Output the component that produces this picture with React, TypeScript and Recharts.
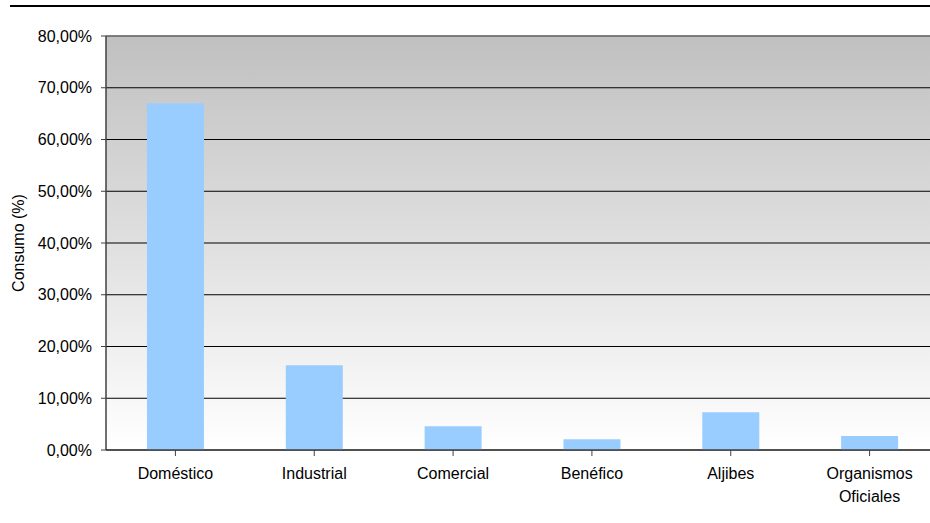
import { BarChart, Bar, XAxis, YAxis, CartesianGrid, ReferenceLine } from 'recharts'

const categories = ['Doméstico', 'Industrial', 'Comercial', 'Benéfico', 'Aljibes', 'Organismos Oficiales']
const consumo = [67.0, 16.4, 4.6, 2.1, 7.3, 2.7]
const yTicks = [0, 10, 20, 30, 40, 50, 60, 70, 80]

const data = categories.map((name, i) => ({ name, consumo: consumo[i] }))

const FONT = 'Liberation Sans, Arial, sans-serif'

const fmtPct = (v: number) => `${v.toFixed(2).replace('.', ',')}%`

function CategoryTick({ x, y, payload }: { x?: number; y?: number; payload?: { value: string } }) {
  const label = payload?.value ?? ''
  // two-word "Organismos Oficiales" wraps like the original
  const lines = label.includes(' ') ? label.split(' ') : [label]
  return (
    <text x={x} y={(y ?? 0) + 21} textAnchor="middle" fontFamily={FONT} fontSize={16} fill="#000">
      {lines.map((l, i) => (
        <tspan key={i} x={x} dy={i === 0 ? 0 : 23}>{l}</tspan>
      ))}
    </text>
  )
}

export default function App() {
  return (
    <div style={{ position: 'fixed', left: 0, top: 0, width: 930, height: 523, overflow: 'hidden', background: '#fff' }}>
      <div style={{ position: 'absolute', left: 10, right: 0, top: 5, borderTop: '2px solid #000' }} />
      <BarChart
        width={945}
        height={523}
        data={data}
        margin={{ top: 36, right: 6, bottom: 0, left: 0 }}
        barCategoryGap="29.5%"
      >
        <defs>
          <linearGradient id="plotBg" x1="0" y1="0" x2="0" y2="1">
            <stop offset="0%" stopColor="#c0c0c0" />
            <stop offset="100%" stopColor="#ffffff" />
          </linearGradient>
        </defs>
        <CartesianGrid vertical={false} stroke="#000" fill="url(#plotBg)" fillOpacity={1} />
        <XAxis
          dataKey="name"
          interval={0}
          tick={<CategoryTick />}
          tickSize={6}
          tickMargin={2}
          axisLine={{ stroke: '#404040', strokeWidth: 1.5 }}
          tickLine={{ stroke: '#404040' }}
          height={73}
        />
        <YAxis
          width={106}
          domain={[0, 80]}
          ticks={yTicks}
          tickFormatter={fmtPct}
          interval={0}
          tickSize={5}
          tickMargin={9}
          tick={{ fontFamily: FONT, fontSize: 16, fill: '#000' }}
          axisLine={{ stroke: '#404040', strokeWidth: 1.5 }}
          tickLine={{ stroke: '#404040' }}
          label={{ value: 'Consumo (%)', angle: -90, position: 'center', dx: -35, style: { fontFamily: FONT, fontSize: 16, fill: '#000' } }}
        />
        <ReferenceLine y={80} stroke="#808080" strokeWidth={1.5} />
        <Bar dataKey="consumo" fill="#99ccff" isAnimationActive={false} />
      </BarChart>
    </div>
  )
}
